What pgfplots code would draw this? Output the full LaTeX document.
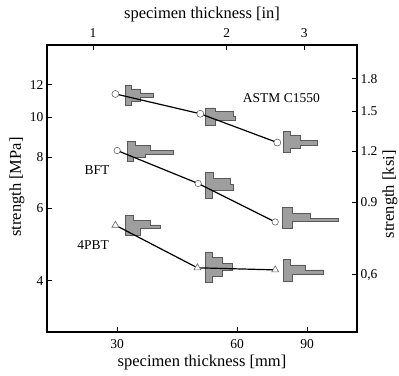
\documentclass[border=0pt]{standalone}
\usepackage{fontspec}
\setmainfont{Liberation Serif}
\usepackage{pgfplots}
\pgfplotsset{compat=1.18}
\pgfplotsset{
  glyph/.style={fill=black!38, draw=black!65, line width=0.5pt, forget plot},
}
\begin{document}
\begin{tikzpicture}
\begin{axis}[name=main,
  scale only axis, width=310pt, height=287pt,
  xmode=log, ymode=log, xmin=20, xmax=120,
  xminorticks=false, yminorticks=false,
  tick align=inside, major tick length=5pt,
  axis line style={line width=1.1pt},
  major tick style={line width=0.9pt, black},
  ticklabel style={font=\fontsize{13.5}{13.5}\selectfont},
  label style={font=\fontsize{16.5}{16.5}\selectfont},
  ymin=3, ymax=15,
  xtick={30,60,90}, xticklabels={30,60,90},
  ytick={4,6,8,10,12}, yticklabels={4,6,8,10,12},
  tick pos=left,
  xticklabel style={yshift=-4pt},
  xlabel={specimen thickness [mm]},
  ylabel={strength [MPa]},
  xlabel style={at={(axis description cs:0.5,0)}, anchor=center, yshift=-31pt},
  ylabel style={at={(axis description cs:0,0.505)}, anchor=center, yshift=30pt},
]
% distribution glyphs (horizontal histograms)
\addplot[glyph] coordinates {(31.4,12.0)(32.5,12.0)(32.5,11.73)(34.3,11.73)(34.3,11.47)(37.0,11.47)(37.0,11.22)(34.3,11.22)(34.3,10.97)(32.5,10.97)(32.5,10.67)(31.4,10.67)} -- cycle;
\addplot[glyph] coordinates {(49.9,10.55)(52.9,10.55)(52.9,10.32)(58.7,10.32)(58.7,10.04)(59.4,10.04)(59.4,9.82)(52.9,9.82)(52.9,9.55)(49.9,9.55)} -- cycle;
\addplot[glyph] coordinates {(78.4,9.23)(81.6,9.23)(81.6,9.03)(86.5,9.03)(86.5,8.78)(95.4,8.78)(95.4,8.54)(86.5,8.54)(86.5,8.40)(81.6,8.40)(81.6,8.21)(78.4,8.21)} -- cycle;
\addplot[glyph] coordinates {(31.8,8.73)(33.3,8.73)(33.3,8.54)(36.3,8.54)(36.3,8.30)(41.5,8.30)(41.5,8.12)(35.3,8.12)(35.3,7.98)(32.9,7.98)(32.9,7.81)(31.8,7.81)} -- cycle;
\addplot[glyph] coordinates {(49.9,7.34)(52.3,7.34)(52.3,7.10)(57.7,7.10)(57.7,6.87)(58.7,6.87)(58.7,6.64)(52.0,6.64)(52.0,6.36)(49.9,6.36)} -- cycle;
\addplot[glyph] coordinates {(77.9,6.04)(82.6,6.04)(82.6,5.84)(91.7,5.84)(91.7,5.68)(107.8,5.68)(107.8,5.59)(82.6,5.59)(82.6,5.38)(77.9,5.38)} -- cycle;
\addplot[glyph] coordinates {(31.4,5.78)(32.9,5.78)(32.9,5.62)(36.3,5.62)(36.3,5.47)(38.5,5.47)(38.5,5.38)(34.3,5.38)(34.3,5.17)(31.4,5.17)} -- cycle;
\addplot[glyph] coordinates {(49.9,4.70)(52.0,4.70)(52.0,4.55)(55.1,4.55)(55.1,4.40)(58.4,4.40)(58.4,4.25)(55.1,4.25)(55.1,4.11)(52.0,4.11)(52.0,3.96)(49.9,3.96)} -- cycle;
\addplot[glyph] coordinates {(78.4,4.50)(81.6,4.50)(81.6,4.37)(89.0,4.37)(89.0,4.25)(98.8,4.25)(98.8,4.14)(82.6,4.14)(82.6,3.98)(78.4,3.98)} -- cycle;
% mean strength lines
\addplot[black, line width=1.2pt, mark=*, mark size=3.5pt, mark options={draw=black!60, fill=white, line width=0.6pt}]
  coordinates {(29.7,11.4)(48.5,10.2)(75.7,8.68)};
\addplot[black, line width=1.2pt, mark=*, mark size=3.2pt, mark options={draw=black!60, fill=white, line width=0.6pt}]
  coordinates {(30.0,8.3)(47.9,6.9)(74.8,5.56)};
\addplot[black, line width=1.2pt, mark=triangle*, mark size=4pt, mark options={draw=black!60, fill=white, line width=0.6pt}]
  coordinates {(29.7,5.46)(47.7,4.30)(74.8,4.25)};
\node[font=\fontsize{13.5}{13.5}\selectfont] at (axis cs:77.5,11.16) {ASTM C1550};
\node[font=\fontsize{13.5}{13.5}\selectfont] at (axis cs:26.7,7.43) {BFT};
\node[font=\fontsize{13.5}{13.5}\selectfont] at (axis cs:26.1,4.89) {4PBT};
\end{axis}
\begin{axis}[
  scale only axis, width=310pt, height=287pt,
  xmode=log, ymode=log, xmin=20, xmax=120,
  xminorticks=false, yminorticks=false,
  tick align=inside, major tick length=5pt,
  axis line style={line width=1.1pt},
  major tick style={line width=0.9pt, black},
  ticklabel style={font=\fontsize{13.5}{13.5}\selectfont},
  label style={font=\fontsize{16.5}{16.5}\selectfont},
  ymin=0.4351, ymax=2.1755,
  xtick={26.1,56.5,88.5}, xticklabels={1,2,3},
  ytick={0.6,0.9,1.2,1.5,1.8},
  yticklabels={{0,6},{0.9},{1.2},{1.5},{1.8}},
  tick pos=right, ticklabel pos=right,
  xticklabel style={yshift=4pt},
  xlabel={specimen thickness [in]},
  ylabel={strength [ksi]},
  xlabel style={at={(axis description cs:0.5,1)}, anchor=center, yshift=30pt},
  ylabel style={at={(axis description cs:1,0.48)}, anchor=center, yshift=-33pt},
]
\end{axis}
\pgfresetboundingbox
\path ([shift={(-47pt,-43pt)}]main.south west) rectangle ([shift={(42pt,45pt)}]main.north east);
\end{tikzpicture}
\end{document}
